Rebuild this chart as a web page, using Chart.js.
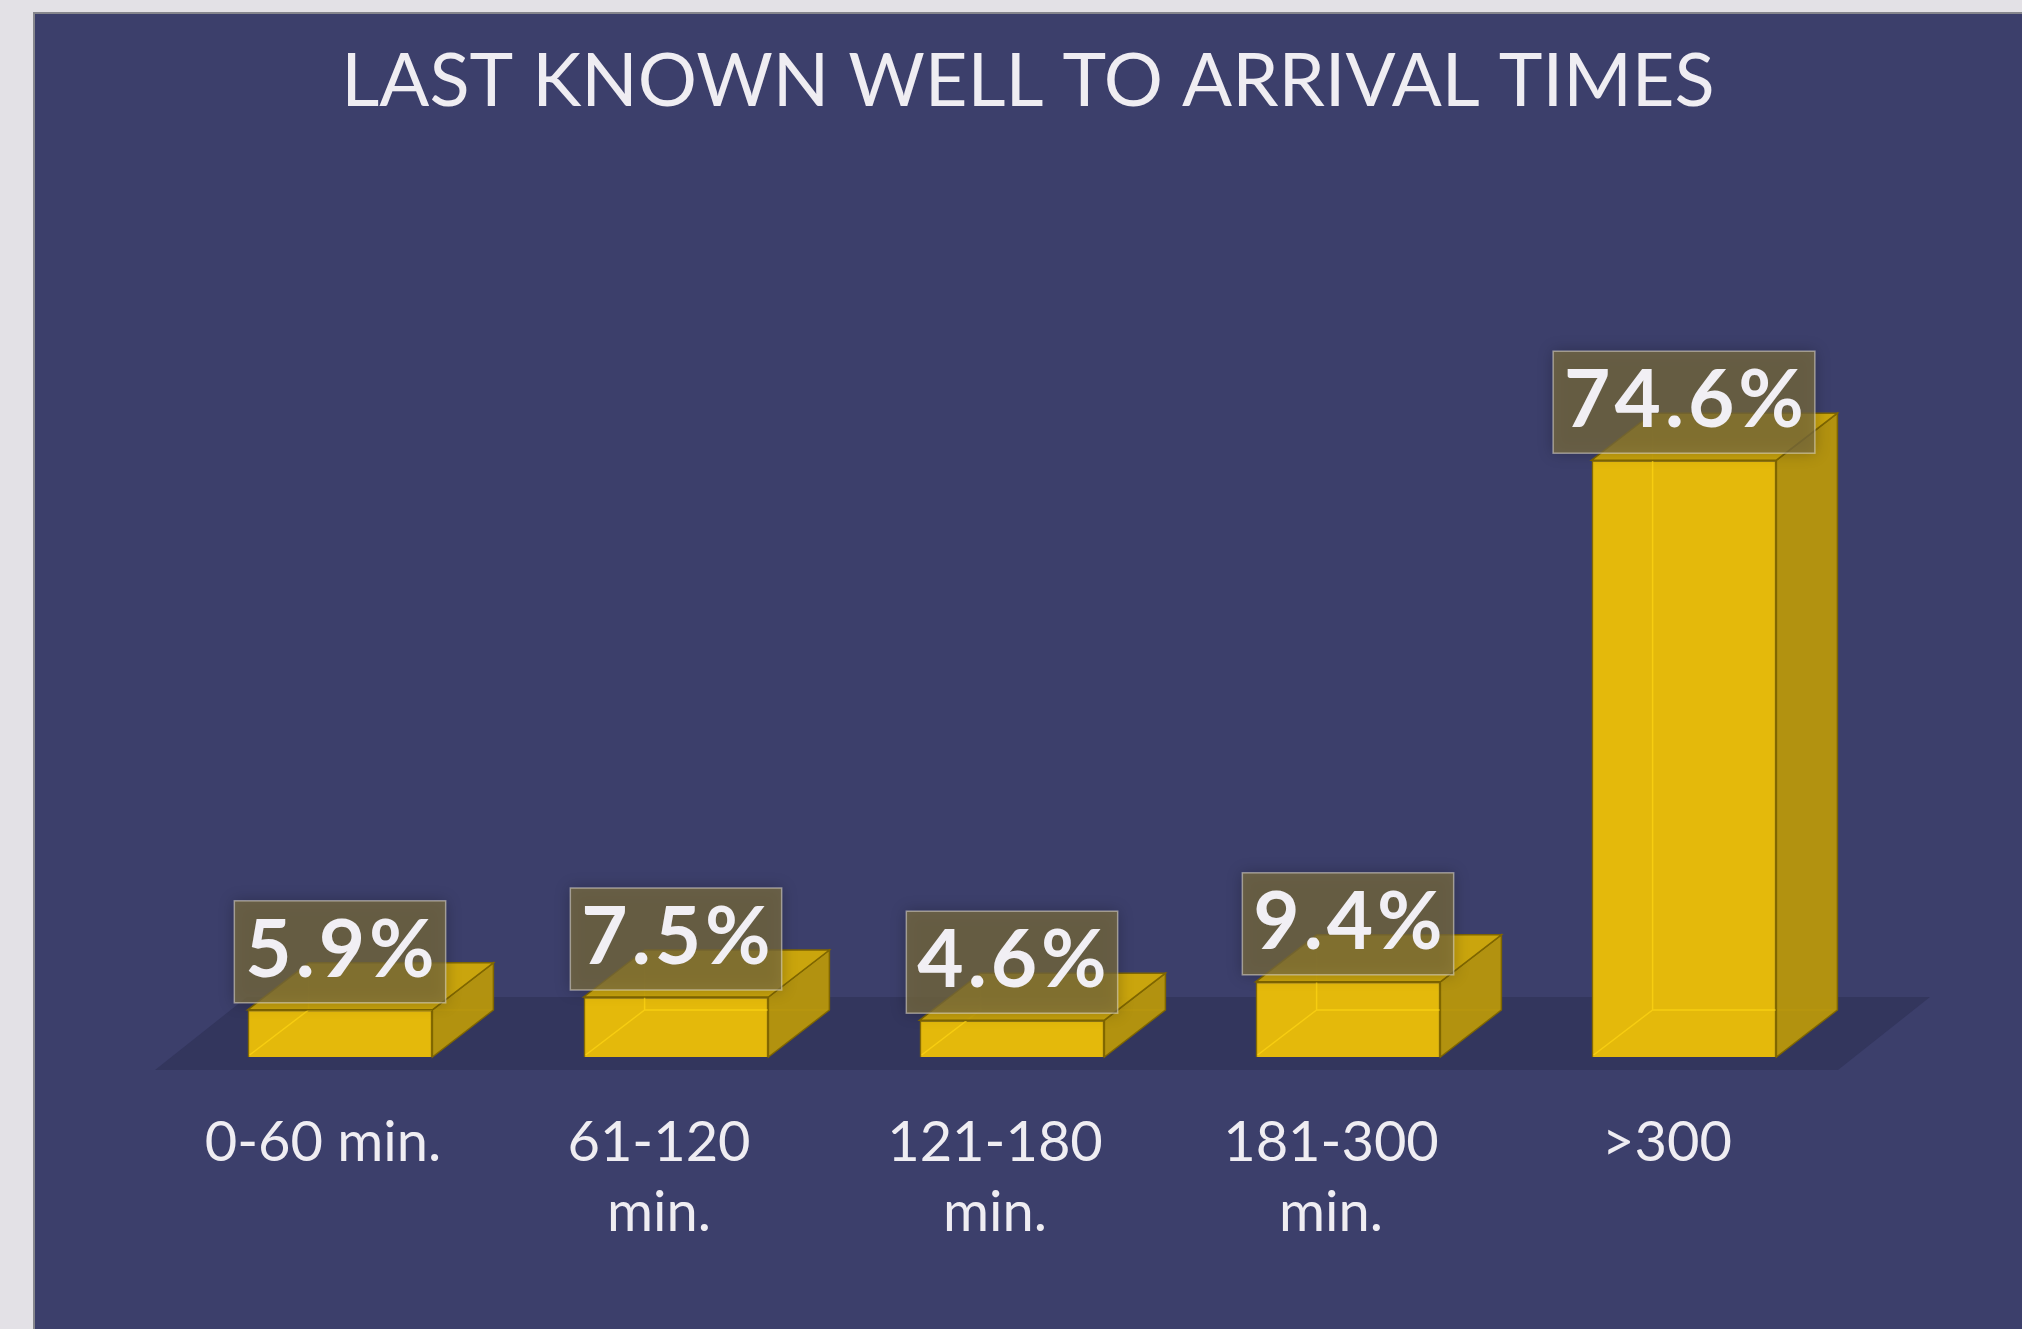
<!DOCTYPE html>
<html>
<head>
<meta charset="utf-8">
<script src="https://cdn.jsdelivr.net/npm/chart.js@4.4.0/dist/chart.umd.min.js"></script>
<style>
  html, body { margin: 0; padding: 0; width: 2022px; height: 1329px; overflow: hidden; background: #e3e1e6; }
  #panel { position: absolute; left: 33px; top: 12px; right: 0; bottom: 0; background: #3c3f6b;
           border-left: 2px solid #86868d; border-top: 2px solid #86868d; }
  #wrap { position: absolute; left: 0; top: 0; width: 2022px; height: 1329px; }
</style>
</head>
<body>
<div id="panel"></div>
<div id="wrap"><canvas id="chart"></canvas></div>
<script>
// ---- data ----
var titleText = 'LAST KNOWN WELL TO ARRIVAL TIMES';
var categories = [['0-60 min.'], ['61-120', 'min.'], ['121-180', 'min.'], ['181-300', 'min.'], ['>300']];
var percents = [5.9, 7.5, 4.6, 9.4, 74.6];

var FONT = 'Lato, "Open Sans", sans-serif';

// title drawn centred over the blue panel
var titlePlugin = {
    id: 'titleText',
    afterDraw: function (chart) {
        var ctx = chart.ctx;
        ctx.save();
        ctx.font = '400 74px ' + FONT;
        ctx.fillStyle = '#efedf2';
        ctx.textAlign = 'center';
        ctx.textBaseline = 'alphabetic';
        ctx.fillText(titleText, 1028, 106);
        ctx.restore();
    }
};

// floor + 3d sides of the bars + value boxes
var box3d = {
    id: 'box3d',
    beforeDatasetsDraw: function (chart) {
        var ctx = chart.ctx, a = chart.chartArea;
        var base = chart.scales.y.getPixelForValue(0);
        ctx.save();
        ctx.fillStyle = '#33365d';
        ctx.beginPath();
        ctx.moveTo(a.left - 17, base + 13);
        ctx.lineTo(a.right - 14, base + 13);
        ctx.lineTo(a.right + 78, base - 60);
        ctx.lineTo(a.left + 75, base - 60);
        ctx.closePath();
        ctx.fill();
        ctx.restore();
    },
    afterDatasetsDraw: function (chart) {
        var ctx = chart.ctx;
        var dx = 61, dy = -47;
        var meta = chart.getDatasetMeta(0);
        ctx.save();
        meta.data.forEach(function (bar) {
            var l = bar.x - bar.width / 2, r = bar.x + bar.width / 2, t = bar.y, b = bar.base;
            // hidden back edges (glass look)
            ctx.strokeStyle = 'rgba(255, 214, 20, 0.7)';
            ctx.lineWidth = 1.5;
            ctx.beginPath();
            ctx.moveTo(l + 2, b - 2);
            ctx.lineTo(l + dx, b + dy);
            ctx.lineTo(r + dx - 2, b + dy);
            ctx.moveTo(l + dx, b + dy);
            ctx.lineTo(l + dx, t + dy + 2);
            ctx.stroke();
            // side face
            ctx.fillStyle = 'rgba(183, 150, 12, 0.96)';
            ctx.strokeStyle = '#7f6600';
            ctx.lineWidth = 1.5;
            ctx.beginPath();
            ctx.moveTo(r, b);
            ctx.lineTo(r + dx, b + dy);
            ctx.lineTo(r + dx, t + dy);
            ctx.lineTo(r, t);
            ctx.closePath();
            ctx.fill();
            ctx.stroke();
            // top face
            ctx.fillStyle = 'rgba(206, 168, 10, 0.97)';
            ctx.beginPath();
            ctx.moveTo(l, t);
            ctx.lineTo(l + dx, t + dy);
            ctx.lineTo(r + dx, t + dy);
            ctx.lineTo(r, t);
            ctx.closePath();
            ctx.fill();
            ctx.stroke();
        });
        // value boxes
        meta.data.forEach(function (bar, i) {
            var txt = percents[i] + '%';
            ctx.font = '700 80px ' + FONT;
            ctx.letterSpacing = '4px';
            var tw = ctx.measureText(txt).width;
            var w = tw + 18;
            var top = bar.y - 109, h = 102;
            ctx.save();
            ctx.shadowColor = 'rgba(0, 0, 0, 0.35)';
            ctx.shadowBlur = 14;
            ctx.fillStyle = 'rgba(122, 108, 62, 0.74)';
            ctx.fillRect(bar.x - w / 2, top, w, h);
            ctx.restore();
            ctx.strokeStyle = 'rgba(225, 220, 205, 0.55)';
            ctx.lineWidth = 1.5;
            ctx.strokeRect(bar.x - w / 2, top, w, h);
            ctx.fillStyle = '#f1eff4';
            ctx.textAlign = 'left';
            ctx.textBaseline = 'alphabetic';
            ctx.fillText(txt, bar.x - tw / 2 + 2, bar.y - 33);
        });
        ctx.restore();
    }
};

var ctx = document.getElementById('chart');

var myChart = new Chart(ctx, {
    type: 'bar',
    data: {
        labels: categories,
        datasets: [{
            label: 'Share',
            data: percents,
            backgroundColor: '#e4b90b',
            borderColor: '#866a00',
            borderWidth: 1.5,
            barPercentage: 0.55,
            categoryPercentage: 1
        }]
    },
    options: {
        responsive: true,
        maintainAspectRatio: false,
        animation: false,
        layout: { padding: { left: 172, right: 170, top: 257, bottom: 0 } },
        plugins: {
            legend: { display: false },
            title: { display: false },
            tooltip: { enabled: false }
        },
        scales: {
            y: { display: false, min: 0, max: 100 },
            x: {
                grid: { display: false, drawTicks: false },
                border: { display: false },
                ticks: {
                    color: '#efedf2',
                    padding: 51,
                    labelOffset: -17,
                    maxRotation: 0,
                    autoSkip: false,
                    font: { family: FONT, size: 56, lineHeight: 1.25 }
                },
                afterFit: function (scale) { scale.height = 272; }
            }
        }
    },
    plugins: [box3d, titlePlugin]
});
</script>
</body>
</html>
